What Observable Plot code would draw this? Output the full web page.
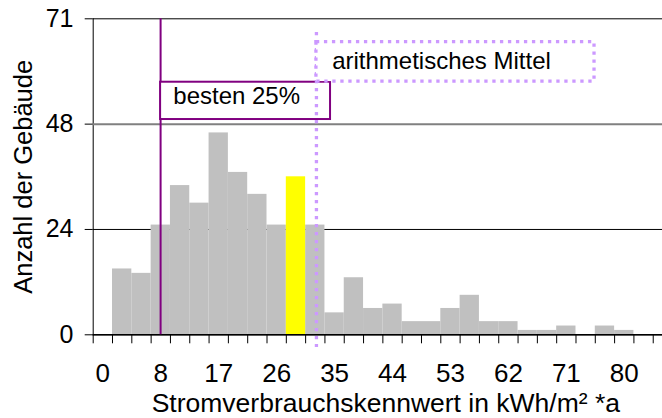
<!DOCTYPE html>
<html><head><meta charset="utf-8">
<script src="https://cdn.jsdelivr.net/npm/d3@7"></script>
<script src="https://cdn.jsdelivr.net/npm/@observablehq/plot@0.6"></script>
<style>
html,body{margin:0;padding:0;background:#fff;overflow:hidden;}
svg{display:block;}
</style></head><body>
<div id="chart"></div>
<script>
// ---- data ----
const counts = [0,15,14,25,34,30,46,37,32,25,36,25,5,13,6,7,3,3,6,9,3,3,1,1,2,0,2,1,0];
const highlightCategory = 10;
const xTickLabels = ["0","8","17","26","35","44","53","62","71","80"];
const xLabelCategories = [0,3,6,9,12,15,18,21,24,27];
const yTicks = [0,24,48,72];
const yTickLabels = ["0","24","48","71"];
const xTitle = "Stromverbrauchskennwert in kWh/m² *a";
const yTitle = "Anzahl der Gebäude";
const quartileLabel = "besten 25%";
const meanLabel = "arithmetisches Mittel";
const quartileCategory = 3.49;
const meanCategory = 11.56;

// ---- layout / style ----
const FONT = "'Liberation Sans', Arial, Helvetica, sans-serif";
const GRAY = "#C0C0C0", YELLOW = "#FFFF00", PURPLE = "#800080", LAVENDER = "#CC99FF";
const boundaries = d3.range(0, 30);

const chart = Plot.plot({
  width: 662,
  height: 418,
  marginLeft: 92.7,
  marginRight: 0,
  marginTop: 18.3,
  marginBottom: 83.7,
  style: {fontFamily: FONT, fontSize: "25px", color: "black", background: "white", overflow: "visible"},
  x: {type: "linear", domain: [0, 29.48], ticks: boundaries, tickSize: 9, tickFormat: () => "", label: null, line: true},
  y: {type: "linear", domain: [0, 72], ticks: yTicks, tickSize: 8, tickPadding: 11.7,
      tickFormat: d => yTickLabels[yTicks.indexOf(d)], label: null, line: true},
  marks: [
    Plot.ruleY(yTicks.slice(1), {y: d => d, stroke: d => d === 48 ? "#808080" : "#000", strokeWidth: d => d === 48 ? 2 : 1}),
    Plot.rect(counts, {filter: (d, i) => i !== highlightCategory, x1: (d, i) => i, x2: (d, i) => i + 1, y1: () => 0, y2: d => d, fill: GRAY}),
    Plot.rect(counts, {filter: (d, i) => i === highlightCategory, x1: (d, i) => i, x2: (d, i) => i + 1, y1: () => 0, y2: d => d, fill: YELLOW}),
    Plot.ruleY([0], {y: d => d, stroke: "#000", strokeWidth: 1.5}),
    // best 25% line and box
    Plot.ruleX([quartileCategory], {x: d => d, y1: () => 0, y2: () => 72, stroke: PURPLE, strokeWidth: 2}),
    Plot.rect([quartileLabel], {x1: () => quartileCategory, x2: () => 12.29, y1: () => 49.05, y2: () => 57.55, fill: "white", stroke: PURPLE, strokeWidth: 2}),
    Plot.text([quartileLabel], {x: () => quartileCategory, y: () => 57.55, dx: 12.7, dy: 4.3, textAnchor: "start", lineAnchor: "top", fontSize: 24, fill: "#000"}),
    // mean line and box
    Plot.ruleX([meanCategory], {x: d => d, y1: () => 68.9, y2: () => -2.9, stroke: LAVENDER, strokeWidth: 3.3, strokeDasharray: "3.3,4.7"}),
    Plot.rect([meanLabel], {x1: () => meanCategory, x2: () => 25.96, y1: () => 57.7, y2: () => 66.7, fill: "white", stroke: LAVENDER, strokeWidth: 3.3, strokeDasharray: "3.3,4.7"}),
    Plot.text([meanLabel], {x: () => meanCategory, y: () => 66.7, dx: 15.7, dy: 10, textAnchor: "start", lineAnchor: "top", fontSize: 24, fill: "#000"}),
    // x tick labels
    Plot.text(xTickLabels, {x: (d, i) => xLabelCategories[i] + 0.5, y: () => 0, dy: 29.2, lineAnchor: "top", fontSize: 26, fill: "#000"}),
    // axis titles
    Plot.text([xTitle], {frameAnchor: "bottom", dx: 8, dy: 68.7, textAnchor: "middle", lineAnchor: "middle", fontSize: 26.5, fill: "#000"}),
    Plot.text([yTitle], {frameAnchor: "left", dx: -69.8, rotate: -90, textAnchor: "middle", lineAnchor: "middle", fontSize: 25.5, fill: "#000"})
  ]
});
document.getElementById("chart").appendChild(chart);
</script>
</body></html>
